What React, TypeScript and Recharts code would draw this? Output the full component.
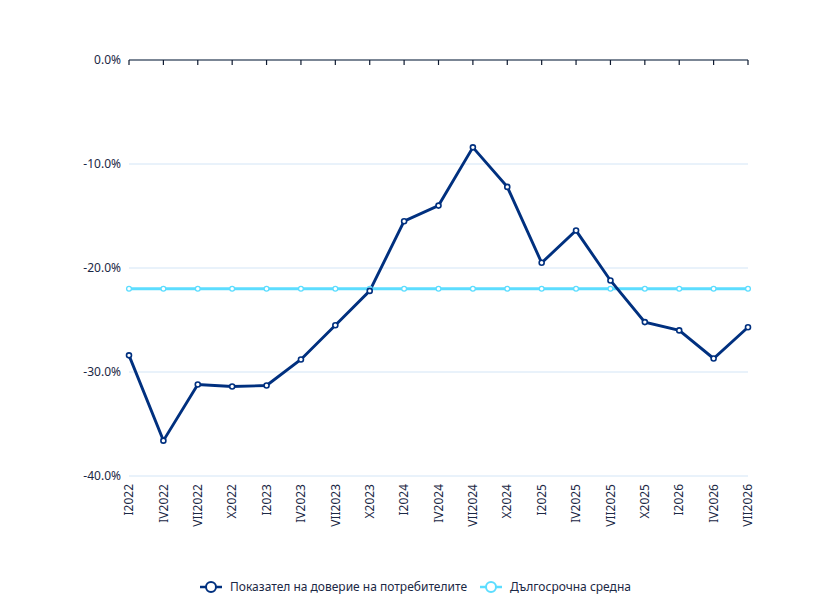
import React from "react";
import { LineChart, Line, XAxis, YAxis, CartesianGrid, Legend } from "recharts";

const categories = ["I2022","IV2022","VII2022","X2022","I2023","IV2023","VII2023","X2023","I2024","IV2024","VII2024","X2024","I2025","IV2025","VII2025","X2025","I2026","IV2026","VII2026"];
const confidence = [-28.4,-36.6,-31.2,-31.4,-31.3,-28.8,-25.5,-22.2,-15.5,-14.0,-8.4,-12.2,-19.5,-16.4,-21.2,-25.2,-26.0,-28.7,-25.7];
const longTermAvg = [-22.0,-22.0,-22.0,-22.0,-22.0,-22.0,-22.0,-22.0,-22.0,-22.0,-22.0,-22.0,-22.0,-22.0,-22.0,-22.0,-22.0,-22.0,-22.0];
const yTicks = [0, -10, -20, -30, -40];

const seriesNames = ["Показател на доверие на потребителите", "Дългосрочна средна"];
const colors = ["#00307F", "#5CDDFF"];

const data = categories.map((c, i) => ({ cat: c, conf: confidence[i], avg: longTermAvg[i] }));

const FONT = "'Noto Sans', 'Open Sans', sans-serif";
const TEXT = "#1B2845";
const AXIS = "#0E1A30";

const BottomTick = (props: any) => {
  const { x, y, payload } = props;
  return (
    <text
      x={x}
      y={y}
      transform={`rotate(-90, ${x}, ${y})`}
      textAnchor="end"
      dy="0.35em"
      fontSize={12}
      fontFamily={FONT}
      fill={TEXT}
    >
      {payload.value}
    </text>
  );
};

const TopTick = (props: any) => {
  const { x, y } = props;
  return <line x1={x} x2={x} y1={y} y2={y + 5} stroke={AXIS} strokeWidth={1.2} />;
};

const LegendContent = () => (
  <div style={{ display: "flex", justifyContent: "center", alignItems: "center", fontFamily: FONT, fontSize: 12, color: TEXT }}>
    {seriesNames.map((n, i) => (
      <div key={n} style={{ display: "flex", alignItems: "center", marginRight: i === 0 ? 13 : 0 }}>
        <svg width={22} height={14} style={{ marginRight: 8 }}>
          <line x1={0} y1={7} x2={22} y2={7} stroke={colors[i]} strokeWidth={2.5} />
          <circle cx={11} cy={7} r={5} fill="#fff" stroke={colors[i]} strokeWidth={2} />
        </svg>
        <span>{n}</span>
      </div>
    ))}
  </div>
);

export default function App() {
  return (
    <div style={{ position: "absolute", left: 0, top: 0 }}>
      <LineChart width={831} height={600} data={data} margin={{ top: 50, right: 83, bottom: 0, left: 0 }}>
        <CartesianGrid xAxisId="bottom" vertical={false} stroke="#D3E5F6" strokeWidth={1} />
        <XAxis
          xAxisId="top"
          dataKey="cat"
          orientation="top"
          height={10}
          tick={<TopTick />}
          tickSize={0}
          tickMargin={0}
          axisLine={{ stroke: AXIS, strokeWidth: 1.2 }}
          tickLine={false}
          interval={0}
        />
        <XAxis
          xAxisId="bottom"
          dataKey="cat"
          orientation="bottom"
          height={124}
          axisLine={false}
          tickLine={false}
          interval={0}
          tick={<BottomTick />}
        />
        <YAxis
          domain={[-40, 0]}
          ticks={yTicks}
          width={129}
          axisLine={false}
          tickLine={false}
          tickFormatter={(v: number) => `${v.toFixed(1)}%`}
          tick={{ fontSize: 12, fontFamily: FONT, fill: TEXT }}
        />
        <Legend
          verticalAlign="middle"
          align="center"
          layout="horizontal"
          wrapperStyle={{ top: 578, left: 0, width: 831 }}
          content={<LegendContent />}
        />
        <Line
          xAxisId="bottom"
          dataKey="avg"
          name={seriesNames[1]}
          stroke={colors[1]}
          strokeWidth={3}
          dot={{ r: 2.4, fill: "#fff", stroke: colors[1], strokeWidth: 1.3 }}
          isAnimationActive={false}
        />
        <Line
          xAxisId="bottom"
          dataKey="conf"
          name={seriesNames[0]}
          stroke={colors[0]}
          strokeWidth={2.9}
          dot={{ r: 2.5, fill: "#fff", stroke: colors[0], strokeWidth: 1.6 }}
          isAnimationActive={false}
        />
      </LineChart>
    </div>
  );
}
